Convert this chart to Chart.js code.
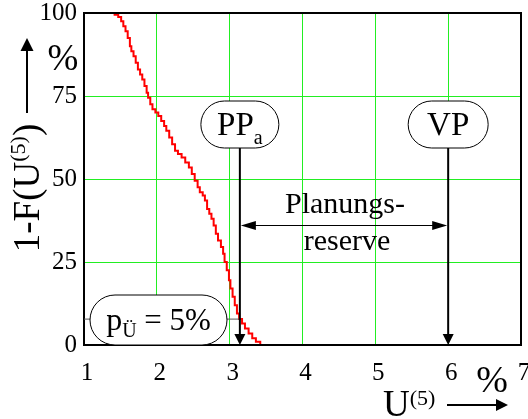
<!DOCTYPE html>
<html>
<head>
<meta charset="utf-8">
<script src="https://cdn.jsdelivr.net/npm/chart.js@4.4.1/dist/chart.umd.min.js"></script>
<style>
  html, body { margin: 0; padding: 0; background: #fff; }
  #fontwarm { position: absolute; left: -9999px; top: 0; font-family: 'Liberation Serif'; font-size: 30px; }
</style>
</head>
<body>
<span id="fontwarm">1-F(U) PPa VP Planungs- reserve 0123456789 %Ü</span>
<canvas id="chart" width="528" height="419"></canvas>
<script>
// axis ticks
const uTicks = [1, 2, 3, 4, 5, 6, 7]
const pTicks = [0, 25, 50, 75, 100]

// 1-F(U5) step curve
const uValues = [1.36, 1.42, 1.47, 1.51, 1.54, 1.57, 1.60, 1.63, 1.65, 1.68,
  1.71, 1.74, 1.77, 1.80, 1.83, 1.86, 1.88, 1.91, 1.94, 1.98,
  2.02, 2.06, 2.10, 2.13, 2.17, 2.21, 2.25, 2.29, 2.34, 2.39,
  2.44, 2.48, 2.52, 2.56, 2.59, 2.63, 2.66, 2.69, 2.72, 2.75,
  2.78, 2.81, 2.84, 2.88, 2.91, 2.93, 2.96, 2.99, 3.01, 3.04,
  3.07, 3.10, 3.13, 3.17, 3.21, 3.26, 3.31, 3.36, 3.42]
const pValues = [100, 99.5, 98.8, 97.5, 96, 94.5, 92.5, 90, 88.5, 87,
  85, 83, 81.5, 80, 78, 76, 74.5, 72.5, 71, 70,
  69, 67.5, 66, 64.5, 62.5, 60.5, 58.5, 57.5, 56.5, 55,
  53.5, 51.5, 49.5, 47.5, 46, 45, 43.5, 41, 39.5, 38,
  36, 33.5, 31.5, 29.5, 27.5, 25, 22.5, 19.5, 17, 14.5,
  12, 9.5, 7.8, 6.5, 5, 3.5, 2, 1, 0]

// markers
const ppaValue = 3.14
const vpValue = 6
const puLevel = 7.8

const serif = '"Liberation Serif"'
const gridGreen = '#22ee22'

// draws text pieces (with sub/superscripts) on one baseline
function richText(ctx, parts, x, y, align) {
  let w = 0
  parts.forEach(p => { ctx.font = p.size + 'px ' + serif; w += ctx.measureText(p.t).width })
  let cx = align === 'center' ? x - w / 2 : (align === 'right' ? x - w : x)
  ctx.textAlign = 'left'
  ctx.textBaseline = 'alphabetic'
  parts.forEach(p => {
    ctx.font = p.size + 'px ' + serif
    ctx.fillText(p.t, cx, y + (p.dy || 0))
    cx += ctx.measureText(p.t).width
  })
}

function pill(ctx, x, y, w, h) {
  ctx.beginPath()
  ctx.roundRect(x, y, w, h, h / 2)
  ctx.fillStyle = '#fff'
  ctx.fill()
  ctx.lineWidth = 1
  ctx.strokeStyle = '#000'
  ctx.stroke()
}

function arrowHead(ctx, tipX, tipY, dir, len, half) {
  ctx.beginPath()
  ctx.moveTo(tipX, tipY)
  if (dir === 'down') { ctx.lineTo(tipX - half, tipY - len); ctx.lineTo(tipX + half, tipY - len) }
  if (dir === 'up') { ctx.lineTo(tipX - half, tipY + len); ctx.lineTo(tipX + half, tipY + len) }
  if (dir === 'left') { ctx.lineTo(tipX + len, tipY - half); ctx.lineTo(tipX + len, tipY + half) }
  if (dir === 'right') { ctx.lineTo(tipX - len, tipY - half); ctx.lineTo(tipX - len, tipY + half) }
  ctx.closePath()
  ctx.fillStyle = '#000'
  ctx.fill()
}

const decorations = {
  id: 'decorations',
  afterDatasetsDraw(chart) {
    const { ctx, chartArea: a, scales: { x, y } } = chart
    ctx.save()

    // frame
    ctx.lineWidth = 2
    ctx.strokeStyle = '#000'
    ctx.strokeRect(a.left, a.top, a.right - a.left, a.bottom - a.top)

    const xp = x.getPixelForValue(ppaValue)
    const xv = x.getPixelForValue(vpValue)
    const yl = y.getPixelForValue(puLevel)

    // p_Ü level line and box
    ctx.lineWidth = 1
    ctx.strokeStyle = '#555'
    ctx.beginPath()
    ctx.moveTo(a.left, yl)
    ctx.lineTo(xp, yl)
    ctx.stroke()
    pill(ctx, a.left + 6, a.bottom - 50, 137, 50)
    ctx.fillStyle = '#000'
    richText(ctx, [{ t: 'p', size: 32 }, { t: 'Ü', size: 20, dy: 7 }, { t: ' = 5%', size: 31 }],
      a.left + 6 + 137 / 2, a.bottom - 15, 'center')

    // vertical arrows
    ctx.lineWidth = 2
    ctx.strokeStyle = '#000'
    ;[xp, xv].forEach(px => {
      ctx.beginPath()
      ctx.moveTo(px, 147)
      ctx.lineTo(px, a.bottom - 8)
      ctx.stroke()
      arrowHead(ctx, px, a.bottom, 'down', 11, 5.5)
    })

    // boxes
    pill(ctx, xp - 39, 101, 78, 47)
    pill(ctx, xv - 40, 101, 80, 47)
    ctx.fillStyle = '#000'
    richText(ctx, [{ t: 'PP', size: 33 }, { t: 'a', size: 20, dy: 9 }], xp, 135, 'center')
    richText(ctx, [{ t: 'VP', size: 33 }], xv, 135, 'center')

    // Planungsreserve double arrow
    const ya = 225.5
    ctx.beginPath()
    ctx.moveTo(xp + 10, ya)
    ctx.lineTo(xv - 10, ya)
    ctx.stroke()
    arrowHead(ctx, xp + 1, ya, 'left', 15, 4.5)
    arrowHead(ctx, xv - 1, ya, 'right', 15, 4.5)
    ctx.fillStyle = '#000'
    richText(ctx, [{ t: 'Planungs-', size: 30 }], (xp + xv) / 2 + 1, 213, 'center')
    richText(ctx, [{ t: 'reserve', size: 30 }], (xp + xv) / 2 + 3, 250, 'center')

    // y title, rotated
    ctx.save()
    ctx.translate(39, 188)
    ctx.rotate(-Math.PI / 2)
    richText(ctx, [{ t: '1-F(U', size: 37 }, { t: '(5)', size: 22, dy: -14 }, { t: ')', size: 37 }], 0, 0, 'center')
    ctx.restore()
    ctx.lineWidth = 2
    ctx.beginPath()
    ctx.moveTo(27, 113)
    ctx.lineTo(27, 48)
    ctx.stroke()
    arrowHead(ctx, 27, 38, 'up', 13, 6.5)
    richText(ctx, [{ t: '%', size: 37 }], 63, 70, 'center')

    // x title
    richText(ctx, [{ t: 'U', size: 37 }, { t: '(5)', size: 22, dy: -11 }], 383, 416, 'left')
    ctx.beginPath()
    ctx.moveTo(447, 405)
    ctx.lineTo(498, 405)
    ctx.stroke()
    arrowHead(ctx, 508, 405, 'right', 12, 6)
    richText(ctx, [{ t: '%', size: 38 }], 492, 392, 'center')

    ctx.restore()
  }
}

const tickFont = { family: serif, size: 25, lineHeight: 1 }

const chart = new Chart(document.getElementById('chart'), {
  type: 'line',
  data: {
    datasets: [{
      data: uValues.map((u, i) => ({ x: u, y: pValues[i] })),
      borderColor: '#ff0000',
      borderWidth: 2,
      pointRadius: 0,
      stepped: true,
      fill: false
    }]
  },
  options: {
    responsive: false,
    animation: false,
    devicePixelRatio: 1,
    layout: { padding: { top: 13, right: 7, left: 0, bottom: 0 } },
    plugins: { legend: { display: false }, tooltip: { enabled: false } },
    scales: {
      x: {
        type: 'linear',
        min: uTicks[0],
        max: uTicks[uTicks.length - 1],
        afterBuildTicks: s => { s.ticks = uTicks.map(v => ({ value: v })) },
        afterFit: s => { s.height = 74; s.paddingLeft = 0; s.paddingRight = 0 },
        ticks: { font: tickFont, color: '#000', padding: 16, labelOffset: 3, maxRotation: 0 },
        grid: {
          drawTicks: false,
          lineWidth: 1,
          color: c => (c.tick && (c.tick.value === uTicks[0] || c.tick.value === uTicks[uTicks.length - 1])) ? 'rgba(0,0,0,0)' : gridGreen
        },
        border: { display: false }
      },
      y: {
        min: pTicks[0],
        max: pTicks[pTicks.length - 1],
        afterBuildTicks: s => { s.ticks = pTicks.map(v => ({ value: v })) },
        afterFit: s => { s.width = 84; s.paddingTop = 0; s.paddingBottom = 0 },
        ticks: { font: tickFont, color: '#000', padding: 7 },
        grid: {
          drawTicks: false,
          lineWidth: 1,
          color: c => (c.tick && (c.tick.value === pTicks[0] || c.tick.value === pTicks[pTicks.length - 1])) ? 'rgba(0,0,0,0)' : gridGreen
        },
        border: { display: false }
      }
    }
  },
  plugins: [decorations]
})

// redraw once the serif face is really available
document.fonts.load('30px "Liberation Serif"').then(() => chart.update())
document.fonts.ready.then(() => chart.update())
</script>
</body>
</html>
